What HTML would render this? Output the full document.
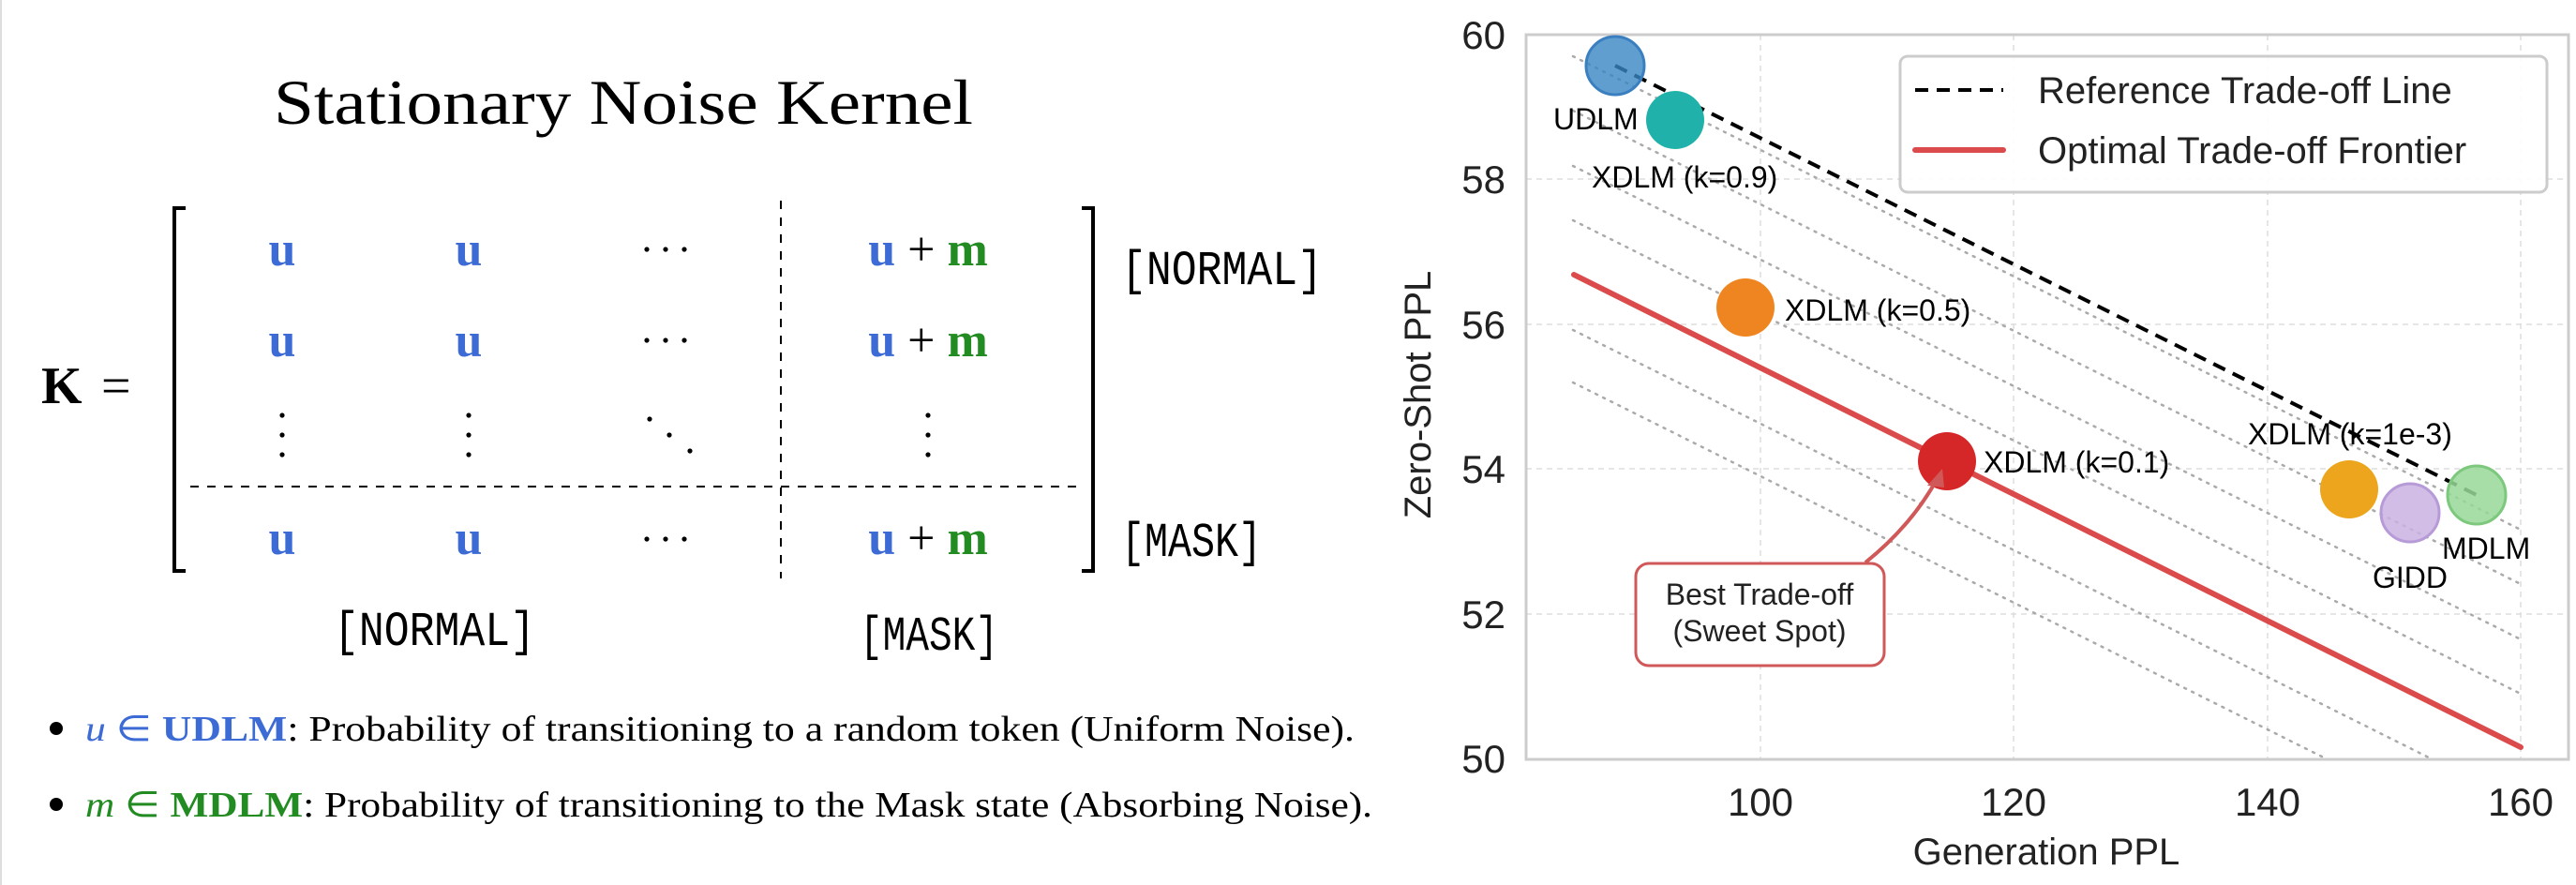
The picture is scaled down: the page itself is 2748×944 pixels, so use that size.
<!DOCTYPE html>
<html><head><meta charset="utf-8"><style>
html,body{margin:0;padding:0;background:#fff}
svg{display:block}
.s{font-family:"Liberation Sans",sans-serif}
.r{font-family:"Liberation Serif",serif}
.m{font-family:"Liberation Mono",monospace}
</style></head><body>
<svg width="2748" height="944" viewBox="0 0 2748 944" xmlns="http://www.w3.org/2000/svg">
<line x1="1" y1="0" x2="1" y2="944" stroke="#ddd" stroke-width="2"/>
<!-- Left panel -->
<text class="r" x="292" y="132" font-size="68" textLength="746" lengthAdjust="spacingAndGlyphs">Stationary Noise Kernel</text>
<text class="r" x="44" y="430" font-size="56" font-weight="bold">K</text>
<text class="r" x="108" y="430" font-size="56">=</text>
<path d="M198,222 H186 V609 H198" fill="none" stroke="#000" stroke-width="4"/>
<path d="M1154,222 H1166 V609 H1154" fill="none" stroke="#000" stroke-width="4"/>
<line x1="833" y1="214" x2="833" y2="617" stroke="#000" stroke-width="2" stroke-dasharray="9,9"/>
<line x1="203" y1="519" x2="1148" y2="519" stroke="#000" stroke-width="2" stroke-dasharray="9,9"/>
<g class="r" font-size="52" font-weight="bold" text-anchor="middle">
<text x="301" y="283" fill="#3d6bd6">u</text><text x="500" y="283" fill="#3d6bd6">u</text>
<text x="301" y="380" fill="#3d6bd6">u</text><text x="500" y="380" fill="#3d6bd6">u</text>
<text x="301" y="591" fill="#3d6bd6">u</text><text x="500" y="591" fill="#3d6bd6">u</text>
<text x="990" y="283"><tspan fill="#3d6bd6">u</tspan><tspan fill="#000" font-weight="normal"> + </tspan><tspan fill="#228b22">m</tspan></text>
<text x="990" y="380"><tspan fill="#3d6bd6">u</tspan><tspan fill="#000" font-weight="normal"> + </tspan><tspan fill="#228b22">m</tspan></text>
<text x="990" y="591"><tspan fill="#3d6bd6">u</tspan><tspan fill="#000" font-weight="normal"> + </tspan><tspan fill="#228b22">m</tspan></text>
</g>
<g fill="#000">
<circle cx="690" cy="266" r="2.6"/><circle cx="710" cy="266" r="2.6"/><circle cx="730" cy="266" r="2.6"/>
<circle cx="690" cy="363" r="2.6"/><circle cx="710" cy="363" r="2.6"/><circle cx="730" cy="363" r="2.6"/>
<circle cx="690" cy="575" r="2.6"/><circle cx="710" cy="575" r="2.6"/><circle cx="730" cy="575" r="2.6"/>
<circle cx="301" cy="443" r="2.6"/><circle cx="301" cy="464" r="2.6"/><circle cx="301" cy="485" r="2.6"/>
<circle cx="500" cy="443" r="2.6"/><circle cx="500" cy="464" r="2.6"/><circle cx="500" cy="485" r="2.6"/>
<circle cx="990" cy="443" r="2.6"/><circle cx="990" cy="464" r="2.6"/><circle cx="990" cy="485" r="2.6"/>
<circle cx="693" cy="447" r="2.6"/><circle cx="714" cy="464" r="2.6"/><circle cx="736" cy="481" r="2.6"/>
</g>
<g class="m" font-size="52">
<text x="1196" y="303" textLength="215" lengthAdjust="spacingAndGlyphs">[NORMAL]</text>
<text x="1196" y="593" textLength="150" lengthAdjust="spacingAndGlyphs">[MASK]</text>
<text x="356" y="688" textLength="215" lengthAdjust="spacingAndGlyphs">[NORMAL]</text>
<text x="917" y="693" textLength="148" lengthAdjust="spacingAndGlyphs">[MASK]</text>
</g>
<circle cx="60" cy="777" r="7" fill="#000"/>
<circle cx="60" cy="858" r="7" fill="#000"/>
<text class="r" x="91" y="790" font-size="38" textLength="1354" lengthAdjust="spacingAndGlyphs"><tspan fill="#3d6bd6" font-style="italic">u</tspan><tspan fill="#3d6bd6"> ∈ </tspan><tspan fill="#3d6bd6" font-weight="bold">UDLM</tspan>: Probability of transitioning to a random token (Uniform Noise).</text>
<text class="r" x="91" y="871" font-size="38" textLength="1373" lengthAdjust="spacingAndGlyphs"><tspan fill="#228b22" font-style="italic">m</tspan><tspan fill="#228b22"> ∈ </tspan><tspan fill="#228b22" font-weight="bold">MDLM</tspan>: Probability of transitioning to the Mask state (Absorbing Noise).</text>

<!-- Right panel: chart -->
<defs><clipPath id="pc"><rect x="1628" y="37" width="1112" height="773"/></clipPath></defs>
<g stroke="#ddd" stroke-width="1.5" stroke-dasharray="6,5">
<line x1="1878" y1="37" x2="1878" y2="810"/><line x1="2148" y1="37" x2="2148" y2="810"/>
<line x1="2419" y1="37" x2="2419" y2="810"/><line x1="2689" y1="37" x2="2689" y2="810"/>
<line x1="1628" y1="191" x2="2740" y2="191"/><line x1="1628" y1="346" x2="2740" y2="346"/>
<line x1="1628" y1="500" x2="2740" y2="500"/><line x1="1628" y1="655" x2="2740" y2="655"/>
</g>
<g clip-path="url(#pc)" stroke="#aaa" stroke-width="2.5" stroke-dasharray="2,7" stroke-linecap="round">
<line x1="1678" y1="60" x2="2689" y2="565"/>
<line x1="1678" y1="118" x2="2689" y2="623"/>
<line x1="1678" y1="177" x2="2689" y2="682"/>
<line x1="1678" y1="235" x2="2689" y2="740"/>
<line x1="1678" y1="352" x2="2689" y2="857"/>
<line x1="1678" y1="408" x2="2689" y2="913"/>
</g>
<rect x="1628" y="37" width="1112" height="773" fill="none" stroke="#ccc" stroke-width="3"/>
<line x1="1679" y1="293" x2="2689" y2="797" stroke="#dc4b4b" stroke-width="6" stroke-linecap="round"/>
<line x1="1723" y1="70" x2="2642" y2="528" stroke="#000" stroke-width="4" stroke-dasharray="14,9"/>
<g stroke-width="3">
<circle cx="1723" cy="70" r="31" fill="#3a86c4" fill-opacity="0.8" stroke="#3a7fbf"/>
<circle cx="1787" cy="128" r="31" fill="#20b2aa" stroke="none"/>
<circle cx="1862" cy="328" r="31" fill="#ee8520" stroke="none"/>
<circle cx="2077" cy="492" r="31" fill="#d62728" stroke="none"/>
<circle cx="2506" cy="522" r="31" fill="#eca51c" stroke="none"/>
<circle cx="2571" cy="547" r="31" fill="#c9b1e0" fill-opacity="0.85" stroke="#b79ad8"/>
<circle cx="2642" cy="528" r="31" fill="#98d898" fill-opacity="0.85" stroke="#7cc87c"/>
</g>
<g class="s" font-size="32" fill="#000">
<text x="1657" y="138">UDLM</text>
<text x="1698" y="200">XDLM (k=0.9)</text>
<text x="1904" y="342">XDLM (k=0.5)</text>
<text x="2116" y="504">XDLM (k=0.1)</text>
<text x="2398" y="474">XDLM (k=1e-3)</text>
<text x="2605" y="596">MDLM</text>
<text x="2531" y="627">GIDD</text>
</g>
<path d="M1990,600 Q2040,560 2068,508" fill="none" stroke="#d05858" stroke-width="4"/>
<path d="M2072,500 L2056,518 L2074,520 Z" fill="#d05858"/>
<rect x="1745" y="601" width="265" height="109" rx="14" fill="#fff" stroke="#d05858" stroke-width="3"/>
<text class="s" x="1877" y="645" font-size="32" text-anchor="middle" fill="#222">Best Trade-off</text>
<text class="s" x="1877" y="684" font-size="32" text-anchor="middle" fill="#222">(Sweet Spot)</text>
<rect x="2027" y="60" width="690" height="145" rx="8" fill="#fff" fill-opacity="0.9" stroke="#ccc" stroke-width="3"/>
<line x1="2043" y1="96" x2="2137" y2="96" stroke="#000" stroke-width="4" stroke-dasharray="14,9"/>
<line x1="2043" y1="160" x2="2137" y2="160" stroke="#dc4b4b" stroke-width="6" stroke-linecap="round"/>
<g class="s" font-size="40" fill="#222">
<text x="2174" y="110">Reference Trade-off Line</text>
<text x="2174" y="174">Optimal Trade-off Frontier</text>
</g>
<g class="s" font-size="42" fill="#222" text-anchor="end">
<text x="1606" y="52">60</text><text x="1606" y="206">58</text><text x="1606" y="361">56</text>
<text x="1606" y="515">54</text><text x="1606" y="670">52</text><text x="1606" y="824">50</text>
</g>
<g class="s" font-size="42" fill="#222" text-anchor="middle">
<text x="1878" y="870">100</text><text x="2148" y="870">120</text>
<text x="2419" y="870">140</text><text x="2689" y="870">160</text>
</g>
<text class="s" x="2183" y="922" font-size="40" fill="#222" text-anchor="middle">Generation PPL</text>
<text class="s" x="1526" y="421" font-size="40" fill="#222" text-anchor="middle" transform="rotate(-90 1526 421)">Zero-Shot PPL</text>
</svg>
</body></html>
